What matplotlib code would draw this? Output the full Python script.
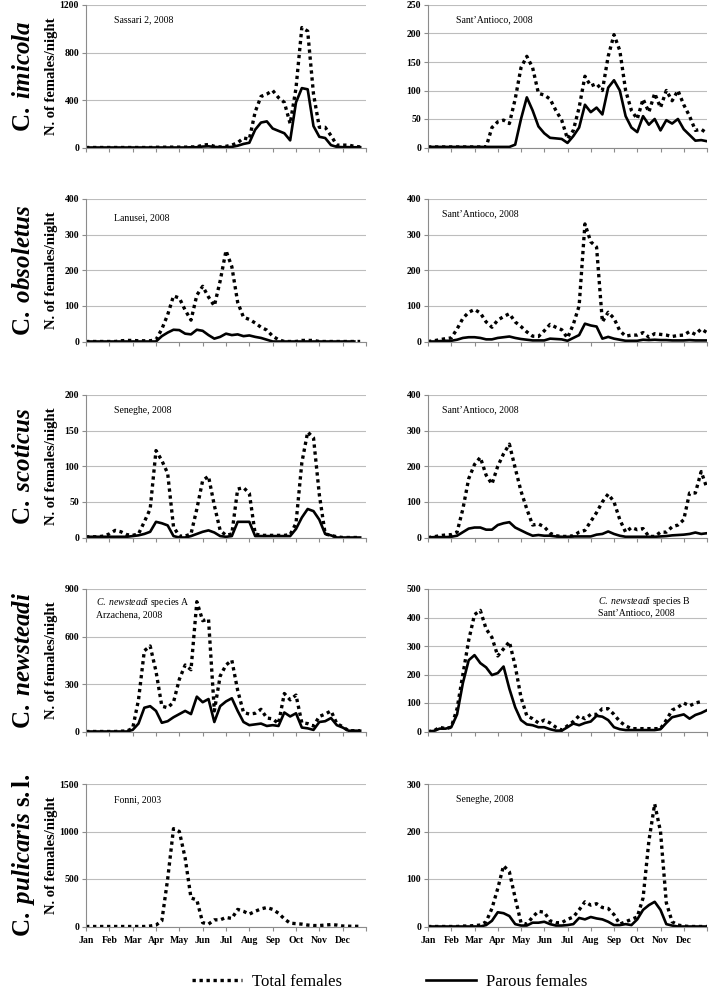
import numpy as np
import matplotlib
matplotlib.use("Agg")
import matplotlib.pyplot as plt
from matplotlib.lines import Line2D

plt.rcParams['font.family'] = ['Liberation Serif', 'DejaVu Serif']
plt.rcParams['mathtext.fontset'] = 'custom'
plt.rcParams['mathtext.rm'] = 'Liberation Serif'
plt.rcParams['mathtext.it'] = 'Liberation Serif:italic'
plt.rcParams['mathtext.bf'] = 'Liberation Serif:bold'
plt.rcParams['mathtext.bfit'] = 'Liberation Serif:italic:bold'

months = ["Jan", "Feb", "Mar", "Apr", "May", "Jun", "Jul", "Aug", "Sep", "Oct", "Nov", "Dec"]

# weekly counts (females/night)
imicola_sassari_total = [0, 0, 0, 0, 0, 0, 0, 0, 0, 0, 0, 0, 2, 2, 3, 3, 3, 3, 5, 5,
                         20, 25, 10, 5, 10, 20, 40, 80, 70, 300,
                         430, 450, 480, 420, 380, 200, 500, 1010, 980, 450,
                         170, 170, 100, 20, 20, 20, 10, 5]
imicola_sassari_parous = [0, 0, 0, 0, 0, 0, 0, 0, 0, 0, 0, 0, 0, 0, 0, 0, 0, 0, 2, 2,
                          8, 10, 5, 2, 3, 5, 15, 30, 40, 150,
                          210, 220, 160, 140, 120, 60, 380, 500, 490, 180,
                          90, 80, 20, 5, 3, 3, 2, 2]
imicola_sa_total = [1, 1, 1, 1, 1, 1, 1, 1, 1, 1, 1,
                    35, 45, 48, 42, 85, 140, 160, 140, 95, 92,
                    85, 65, 48, 15, 30, 70, 125, 108, 112, 100,
                    160, 198, 170, 100, 65, 50, 85, 62, 95, 70,
                    100, 82, 100, 75, 55, 30, 32, 25]
imicola_sa_parous = [1, 1, 1, 1, 1, 1, 1, 1, 1, 1, 1, 1, 1, 1, 1,
                     5, 50, 88, 65, 37, 25, 17, 16, 15, 8,
                     20, 35, 75, 62, 70, 58, 105, 118, 100, 55,
                     35, 27, 55, 40, 50, 30, 48, 42, 50, 32,
                     22, 12, 13, 11]

obsoletus_lanusei_total = [0, 0, 0, 0, 0, 0, 2, 3, 3, 2,
                           2, 2, 5, 35, 75, 128, 122, 88, 60, 130,
                           155, 125, 100, 170, 255, 210, 110, 68, 62, 52,
                           40, 32, 15, 5, 0, 0, 0, 3, 3, 3,
                           0, 0, 0, 0, 0, 0, 0, 0]
obsoletus_lanusei_parous = [0, 0, 0, 0, 0, 0, 0, 0, 0, 0, 0, 0, 0,
                            15, 25, 33, 32, 22, 20, 33, 30, 18, 8,
                            13, 22, 18, 20, 15, 17, 13, 10, 5, 0,
                            0, 0, 0, 0, 0, 0, 0, 0, 0, 0, 0, 0, 0, 0]
obsoletus_sa_total = [0, 2, 5, 8, 10, 35, 65, 82, 90, 80,
                      55, 40, 60, 70, 78, 55, 42, 27, 15, 14,
                      30, 48, 40, 33, 10, 48, 100, 330, 280, 265,
                      55, 82, 65, 30, 15, 18, 18, 25, 12, 22,
                      20, 18, 14, 17, 18, 28, 20, 35, 25]
obsoletus_sa_parous = [0, 0, 1, 2, 2, 5, 10, 12, 12, 10,
                       6, 6, 10, 12, 14, 10, 7, 5, 3, 3,
                       3, 8, 7, 6, 2, 10, 18, 50, 45, 42,
                       8, 13, 8, 5, 2, 2, 2, 5, 4, 5,
                       4, 4, 3, 3, 3, 4, 3, 3, 3]

scoticus_seneghe_total = [1, 1, 1, 2, 5, 10, 8, 4, 3, 5,
                          22, 40, 122, 108, 90, 15, 2, 2, 5, 40,
                          80, 86, 45, 10, 3, 5, 68, 70, 62, 5,
                          3, 3, 3, 3, 3, 4, 20, 105, 148, 140,
                          60, 5, 3, 1, 0, 0, 0, 0]
scoticus_seneghe_parous = [1, 1, 1, 1, 1, 1, 1, 1, 2, 3,
                           5, 8, 22, 20, 17, 2, 0, 0, 2, 5,
                           8, 10, 7, 2, 1, 2, 22, 22, 22, 2,
                           2, 2, 2, 2, 2, 2, 12, 28, 40, 37,
                           25, 5, 3, 0, 0, 0, 0, 0]
scoticus_sa_total = [0, 2, 5, 7, 8, 15, 80, 165, 205, 225,
                     175, 150, 200, 235, 262, 195, 130, 80, 35, 38,
                     30, 12, 5, 3, 3, 5, 15, 20, 45, 70,
                     100, 122, 100, 50, 15, 28, 22, 25, 3, 3,
                     15, 15, 30, 35, 50, 125, 125, 185, 138]
scoticus_sa_parous = [0, 1, 1, 1, 2, 5, 15, 25, 28, 28,
                      22, 22, 35, 40, 43, 28, 20, 12, 5, 7,
                      5, 5, 3, 2, 2, 3, 3, 3, 3, 8,
                      10, 17, 10, 5, 2, 2, 2, 2, 2, 2,
                      3, 4, 6, 7, 8, 10, 14, 10, 12]

newsteadi_a_total = [0, 0, 0, 0, 0, 0, 2, 3, 20, 200,
                     510, 540, 380, 160, 150, 185, 330, 420, 390, 820,
                     700, 710, 130, 350, 420, 450, 260, 120, 110, 115,
                     140, 85, 80, 50, 240, 200, 230, 55, 50, 35,
                     95, 110, 130, 50, 30, 5, 5, 5]
newsteadi_a_parous = [0, 0, 0, 0, 0, 0, 0, 0, 10, 50,
                      150, 160, 130, 55, 65, 90, 110, 130, 110, 220,
                      185, 205, 60, 160, 190, 210, 130, 60, 40, 45,
                      50, 35, 40, 35, 120, 95, 115, 25, 20, 10,
                      60, 65, 85, 40, 25, 5, 5, 5]
newsteadi_b_total = [0, 2, 15, 10, 15, 80, 200, 320, 410, 425,
                     360, 330, 265, 290, 315, 230, 120, 55, 45, 30,
                     40, 30, 15, 5, 20, 35, 55, 45, 60, 60,
                     80, 80, 60, 35, 20, 10, 10, 10, 10, 10,
                     10, 40, 75, 85, 100, 90, 100, 105]
newsteadi_b_parous = [0, 2, 10, 10, 15, 60, 170, 250, 268, 240,
                      225, 198, 205, 228, 150, 85, 40, 25, 22, 15,
                      15, 8, 3, 3, 15, 28, 22, 30, 35, 55,
                      52, 40, 15, 8, 5, 5, 5, 5, 5, 5,
                      8, 30, 50, 55, 60, 45, 58, 65, 75]

pulicaris_fonni_total = [0, 0, 0, 0, 0, 0, 0, 0, 0, 0, 0,
                         5, 15, 60, 500, 1030, 1000, 720, 300, 280,
                         40, 25, 70, 70, 95, 85, 180, 160, 130, 160,
                         185, 200, 180, 140, 80, 35, 30, 25, 15, 10,
                         10, 15, 20, 15, 5, 3, 2, 2]
pulicaris_seneghe_total = [0, 0, 0, 0, 0, 0, 1, 1, 2, 3,
                           10, 38, 80, 128, 115, 60, 8, 5, 20, 32,
                           30, 12, 8, 8, 15, 20, 35, 52, 45, 48,
                           40, 38, 25, 5, 10, 15, 20, 60, 180, 258,
                           200, 50, 10, 3, 1, 0, 0, 0, 0]
pulicaris_seneghe_parous = [0, 0, 0, 0, 0, 0, 0, 0, 0, 0,
                            3, 12, 30, 28, 22, 5, 2, 2, 8, 8,
                            10, 5, 2, 2, 3, 5, 18, 15, 20, 17,
                            15, 10, 3, 3, 5, 3, 15, 35, 45, 52,
                            35, 5, 2, 0, 0, 0, 0, 0, 0]

species = [r"$\mathbf{C.}\ \mathbfit{imicola}$",
           r"$\mathbf{C.}\ \mathbfit{obsoletus}$",
           r"$\mathbf{C.}\ \mathbfit{scoticus}$",
           r"$\mathbf{C.}\ \mathbfit{newsteadi}$",
           r"$\mathbf{C.}\ \mathbfit{pulicaris}\ \mathbf{s.l.}$"]

panels = [
    # (total, parous, ymax, ystep, site text, text x, text y)
    [(imicola_sassari_total, imicola_sassari_parous, 1200, 400, "Sassari 2, 2008", 0.10, 0.93),
     (imicola_sa_total, imicola_sa_parous, 250, 50, "Sant\u2019Antioco, 2008", 0.10, 0.93)],
    [(obsoletus_lanusei_total, obsoletus_lanusei_parous, 400, 100, "Lanusei, 2008", 0.10, 0.90),
     (obsoletus_sa_total, obsoletus_sa_parous, 400, 100, "Sant\u2019Antioco, 2008", 0.05, 0.93)],
    [(scoticus_seneghe_total, scoticus_seneghe_parous, 200, 50, "Seneghe, 2008", 0.10, 0.92),
     (scoticus_sa_total, scoticus_sa_parous, 400, 100, "Sant\u2019Antioco, 2008", 0.05, 0.93)],
    [(newsteadi_a_total, newsteadi_a_parous, 900, 300,
      "$\\mathit{C.\\ newsteadi}$ species A\nArzachena, 2008", 0.035, 0.95),
     (newsteadi_b_total, newsteadi_b_parous, 500, 100,
      "$\\mathit{C.\\ newsteadi}$ species B\nSant\u2019Antioco, 2008", 0.61, 0.96)],
    [(pulicaris_fonni_total, None, 1500, 500, "Fonni, 2003", 0.10, 0.92),
     (pulicaris_seneghe_total, pulicaris_seneghe_parous, 300, 100, "Seneghe, 2008", 0.10, 0.92)],
]

W, H = 711, 992
fig = plt.figure(figsize=(W / 100, H / 100), dpi=100)

col_x = [86, 428]
col_w = [280, 279]
row_top = [5, 199, 395, 589, 784]
row_h = 142.5

for r, row in enumerate(panels):
    for c, (total, parous, ymax, ystep, site, tx, ty) in enumerate(row):
        ax = fig.add_axes([col_x[c] / W, 1 - (row_top[r] + row_h) / H, col_w[c] / W, row_h / H])
        x = np.arange(len(total)) * 0.25
        ax.plot(x, total, color='black', lw=2.4, linestyle=(0, (1, 1.1)))
        if parous is not None:
            xp = np.arange(len(parous)) * 0.25
            ax.plot(xp, parous, color='black', lw=1.9)
        ax.set_xlim(0, 12)
        ax.set_ylim(0, ymax)
        ax.set_yticks(np.arange(0, ymax + 1, ystep))
        ax.set_xticks(np.arange(0, 13))
        if r == 4:
            ax.set_xticklabels(months + [""], fontsize=7, fontweight='bold')
        else:
            ax.set_xticklabels([])
        for lab in ax.get_yticklabels():
            lab.set_fontsize(7)
            lab.set_fontweight('bold')
        ax.grid(axis='y', color='#bdbdbd', lw=0.8)
        ax.set_axisbelow(True)
        for s in ['top', 'right']:
            ax.spines[s].set_visible(False)
        for s in ['left', 'bottom']:
            ax.spines[s].set_color('#8c8c8c')
            ax.spines[s].set_linewidth(0.8)
        ax.tick_params(axis='both', color='#8c8c8c', length=3, width=0.8, pad=2)
        ax.tick_params(axis='x', pad=4)
        ax.text(tx, ty, site, transform=ax.transAxes, fontsize=7, va='top', ha='left',
                linespacing=1.1)

    yc = 1 - (row_top[r] + row_h / 2) / H
    fig.text(51 / W, yc, "N. of females/night", rotation=90, ha='center', va='center',
             fontsize=10.5, fontweight='bold')
    fig.text(24 / W, yc, species[r], rotation=90, ha='center', va='center', fontsize=18)

handles = [Line2D([], [], color='black', lw=2.4, linestyle=(0, (1, 1.1))),
           Line2D([], [], color='black', lw=1.9)]
fig.legend(handles, ["Total females", "Parous females"], loc='center',
           bbox_to_anchor=(0.548, 1 - 982 / H), ncol=2, frameon=False, fontsize=12,
           handlelength=3.0, columnspacing=5.0, handletextpad=0.6)

fig.savefig("out.png", dpi=100)
